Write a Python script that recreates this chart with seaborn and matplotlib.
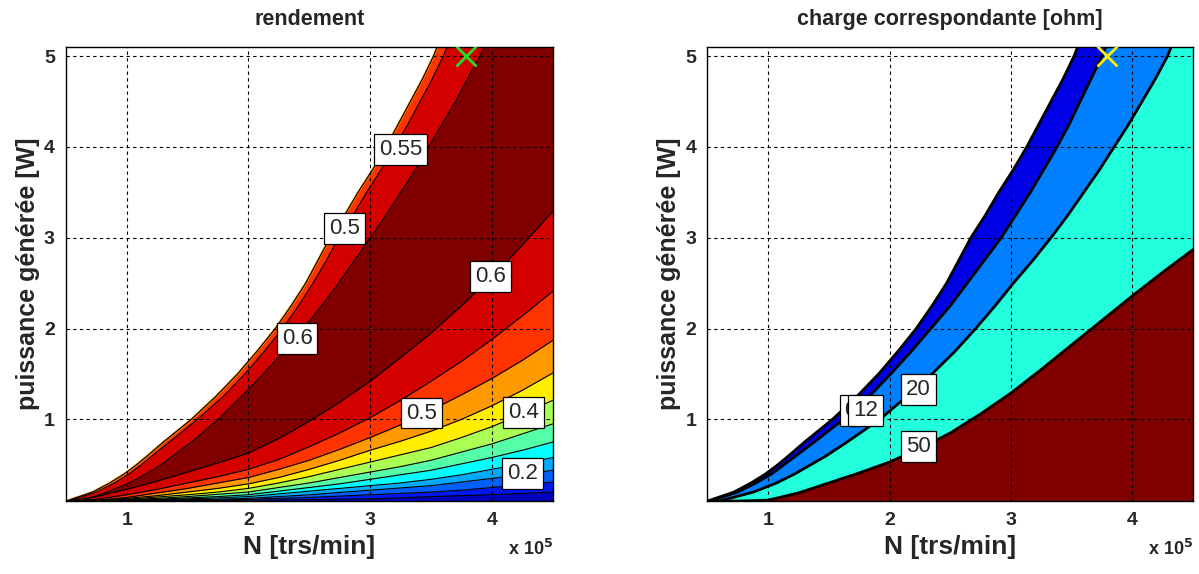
import numpy as np
import matplotlib
matplotlib.use("Agg")
import matplotlib.pyplot as plt
import seaborn as sns

# axis ranges : N in 1e5 trs/min, P in W
N_MIN, N_MAX = 0.5, 4.5
P_MIN, P_MAX = 0.1, 5.1

# boundaries that leave through the top : N read at fixed power levels
p_up = [0.1, 0.2, 0.3, 0.4, 0.5, 0.6, 0.75, 1.0, 1.25, 1.5, 1.75, 2.0, 2.25,
        2.5, 2.75, 3.0, 3.25, 3.5, 3.75, 4.0, 4.25, 4.5, 4.75, 5.0, 5.1]
n_edge = [0.50, 0.72, 0.86, 0.98, 1.08, 1.17, 1.30, 1.53, 1.73, 1.91, 2.07, 2.22, 2.35,
          2.47, 2.57, 2.67, 2.79, 2.90, 3.02, 3.13, 3.23, 3.33, 3.43, 3.52, 3.55]
n_r055 = [0.52, 0.75, 0.90, 1.02, 1.12, 1.21, 1.35, 1.58, 1.79, 1.97, 2.13, 2.28, 2.41,
          2.53, 2.64, 2.74, 2.86, 2.97, 3.09, 3.20, 3.31, 3.41, 3.51, 3.60, 3.63]
n_r060 = [0.62, 0.84, 1.02, 1.16, 1.28, 1.38, 1.53, 1.75, 1.94, 2.12, 2.29, 2.45, 2.60,
          2.74, 2.87, 3.00, 3.13, 3.25, 3.37, 3.48, 3.59, 3.70, 3.80, 3.90, 3.94]
n_c12 = [0.52, 0.75, 0.90, 1.03, 1.13, 1.23, 1.38, 1.62, 1.83, 2.01, 2.18, 2.34, 2.50,
         2.64, 2.78, 2.92, 3.04, 3.16, 3.27, 3.38, 3.48, 3.57, 3.66, 3.75, 3.78]
n_c20 = [0.60, 0.88, 1.07, 1.22, 1.35, 1.48, 1.65, 1.92, 2.14, 2.35, 2.54, 2.71, 2.87,
         3.02, 3.18, 3.33, 3.47, 3.60, 3.73, 3.85, 3.97, 4.08, 4.19, 4.29, 4.32]

# boundaries that leave through the right side : P read at fixed speeds
n_low = [0.5, 0.75, 1.0, 1.25, 1.5, 1.75, 2.0, 2.25, 2.5,
         2.75, 3.0, 3.25, 3.5, 3.75, 4.0, 4.25, 4.5]
p_r060 = [0.10, 0.15, 0.23, 0.32, 0.42, 0.52, 0.63, 0.79, 0.98,
          1.19, 1.42, 1.68, 1.95, 2.25, 2.57, 2.92, 3.29]
p_r055 = [0.10, 0.12, 0.17, 0.23, 0.30, 0.37, 0.45, 0.56, 0.70,
          0.85, 1.02, 1.21, 1.42, 1.64, 1.88, 2.14, 2.41]
p_r050 = [0.10, 0.11, 0.14, 0.19, 0.24, 0.30, 0.36, 0.45, 0.55,
          0.67, 0.80, 0.94, 1.10, 1.27, 1.45, 1.65, 1.87]
p_r045 = [0.10, 0.105, 0.13, 0.16, 0.20, 0.24, 0.29, 0.36, 0.45,
          0.55, 0.66, 0.76, 0.87, 1.00, 1.15, 1.32, 1.51]
p_r040 = [0.10, 0.103, 0.12, 0.145, 0.17, 0.20, 0.24, 0.30, 0.37,
          0.45, 0.53, 0.61, 0.69, 0.80, 0.92, 1.06, 1.21]
p_r035 = [0.10, 0.102, 0.115, 0.13, 0.15, 0.175, 0.20, 0.25, 0.30,
          0.36, 0.42, 0.48, 0.55, 0.64, 0.73, 0.84, 0.95]
p_r030 = [0.10, 0.101, 0.11, 0.12, 0.135, 0.15, 0.17, 0.21, 0.25,
          0.29, 0.34, 0.39, 0.44, 0.51, 0.58, 0.66, 0.75]
p_r025 = [0.10, 0.10, 0.107, 0.115, 0.125, 0.135, 0.15, 0.18, 0.21,
          0.24, 0.27, 0.30, 0.34, 0.39, 0.45, 0.51, 0.58]
p_r020 = [0.10, 0.10, 0.105, 0.11, 0.115, 0.12, 0.13, 0.15, 0.17,
          0.195, 0.22, 0.245, 0.27, 0.31, 0.35, 0.39, 0.44]
p_r015 = [0.10, 0.10, 0.103, 0.105, 0.108, 0.113, 0.12, 0.13, 0.14,
          0.155, 0.17, 0.185, 0.20, 0.22, 0.25, 0.28, 0.31]
p_r010 = [0.10, 0.10, 0.10, 0.102, 0.104, 0.107, 0.11, 0.112, 0.115,
          0.12, 0.125, 0.135, 0.15, 0.16, 0.17, 0.185, 0.20]
p_c50 = [0.10, 0.10, 0.11, 0.19, 0.30, 0.41, 0.53, 0.68, 0.85,
         1.06, 1.29, 1.55, 1.82, 2.09, 2.36, 2.62, 2.87]

# operating point
opt_n = [3.79]
opt_p = [5.0]

# contour labels (text, N, P)
rend_labels = [("0.55", 3.25, 3.97), ("0.5", 2.79, 3.10), ("0.6", 2.40, 1.89),
               ("0.6", 3.99, 2.57), ("0.5", 3.42, 1.07), ("0.4", 4.26, 1.08),
               ("0.2", 4.25, 0.40)]
charge_labels = [("0", 1.68, 1.10), ("12", 1.80, 1.10), ("20", 2.24, 1.33),
                 ("50", 2.24, 0.70)]

DARKRED, RED, ORANGERED = "#800000", "#d40000", "#ff3300"
low_lines = [p_r060, p_r055, p_r050, p_r045, p_r040, p_r035,
             p_r030, p_r025, p_r020, p_r015, p_r010]
low_colors = [RED, ORANGERED, "#ff9900", "#ffee00", "#aaff55", "#55ffaa",
              "#00ffff", "#00aaff", "#0060ff", "#0018f0", "#0000b8"]

sns.set_style("white")
plt.rcParams['font.family'] = ['Liberation Sans', 'DejaVu Sans']
plt.rcParams['font.weight'] = 'bold'

fig = plt.figure(figsize=(11.99, 5.74), dpi=100)
ax1 = fig.add_axes([0.055, 0.127, 0.406, 0.791])
ax2 = fig.add_axes([0.590, 0.127, 0.405, 0.791])

# --- rendement
ax1.fill_betweenx(p_up, n_edge, N_MAX, color=ORANGERED, lw=0)
ax1.fill_betweenx(p_up, n_r055, N_MAX, color=RED, lw=0)
ax1.fill_betweenx(p_up, n_r060, N_MAX, color=DARKRED, lw=0)
for p, col in zip(low_lines, low_colors):
    ax1.fill_between(n_low, p, P_MIN, color=col, lw=0)
sns.lineplot(x=n_edge, y=p_up, sort=False, estimator=None, color="#ff9900", lw=1.6, ax=ax1)
for n in [n_edge, n_r055, n_r060]:
    sns.lineplot(x=n, y=p_up, sort=False, estimator=None, color="k", lw=0.8, ax=ax1)
for p in low_lines:
    sns.lineplot(x=n_low, y=p, sort=False, estimator=None, color="k", lw=0.8, ax=ax1)
ax1.plot(opt_n, opt_p, "x", color="#22dd22", ms=14, mew=2, zorder=5)

# --- charge
ax2.fill_betweenx(p_up, n_edge, N_MAX, color="#0000e6", lw=0)
ax2.fill_betweenx(p_up, n_c12, N_MAX, color="#0080ff", lw=0)
ax2.fill_betweenx(p_up, n_c20, N_MAX, color="#22ffdd", lw=0)
ax2.fill_between(n_low, p_c50, P_MIN, color=DARKRED, lw=0)
for n in [n_edge, n_c12, n_c20]:
    sns.lineplot(x=n, y=p_up, sort=False, estimator=None, color="k", lw=2.0, ax=ax2)
sns.lineplot(x=n_low, y=p_c50, sort=False, estimator=None, color="k", lw=2.0, ax=ax2)
ax2.plot(opt_n, opt_p, "x", color="#ffee00", ms=14, mew=2, zorder=5)

for ax, labels in [(ax1, rend_labels), (ax2, charge_labels)]:
    for txt, n, p in labels:
        ax.text(n, p, txt, ha="center", va="center", fontsize=16, fontweight="normal",
                zorder=6, bbox=dict(boxstyle="square,pad=0.22", fc="white", ec="k", lw=0.9))

for ax, title in [(ax1, "rendement"), (ax2, "charge correspondante [ohm]")]:
    ax.set_xlim(N_MIN, N_MAX)
    ax.set_ylim(P_MIN, P_MAX)
    ax.set_xticks([1, 2, 3, 4])
    ax.set_yticks([1, 2, 3, 4, 5])
    ax.set_axisbelow(False)
    ax.grid(True, color="k", ls=(0, (3, 3)), lw=0.8)
    ax.tick_params(direction="in", length=5, labelsize=14, pad=8)
    for lab in ax.get_xticklabels() + ax.get_yticklabels():
        lab.set_fontweight("bold")
    for s in ax.spines.values():
        s.set_color("k")
        s.set_linewidth(1)
    ax.set_title(title, fontsize=15.5, fontweight="bold", pad=16)
    ax.set_xlabel("N [trs/min]", fontsize=19, fontweight="bold", labelpad=4)
    ax.set_ylabel("puissance générée [W]", fontsize=18, fontweight="bold", labelpad=3)
    ax.text(1.0, -0.105, r"x 10$^{\mathbf{5}}$", transform=ax.transAxes,
            fontsize=13, fontweight="bold", va="center", ha="right")

fig.savefig("out.png", dpi=100)
